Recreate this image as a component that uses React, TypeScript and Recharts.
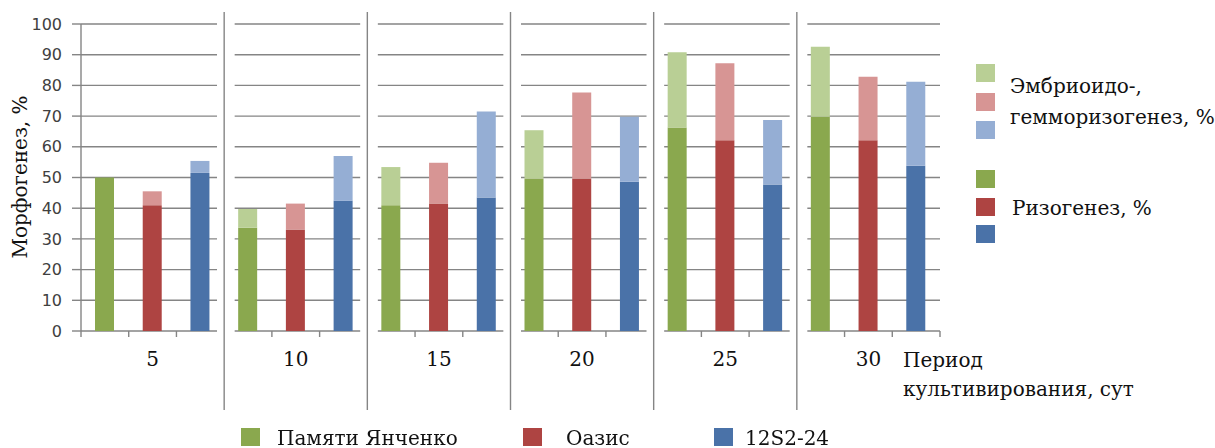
import React from 'react';
import {
  BarChart, Bar, Cell, XAxis, YAxis, CartesianGrid, ReferenceLine, ReferenceArea,
} from 'recharts';

// Период культивирования, сут
const periods = ['5', '10', '15', '20', '25', '30'];
const varieties = ['Памяти Янченко', 'Оазис', '12S2-24'];

// Ризогенез, % (нижняя часть столбца)
const rhizoYanchenko = [50, 33.6, 41, 49.7, 66.3, 69.8];
const rhizoOasis = [41, 33.1, 41.5, 49.7, 62.1, 62.1];
const rhizo12S2 = [51.5, 42.4, 43.5, 48.6, 47.7, 53.8];

// Эмбриоидо-, гемморизогенез, % (верхняя часть столбца)
const embrYanchenko = [0, 6.1, 12.4, 15.7, 24.5, 22.8];
const embrOasis = [4.5, 8.4, 13.3, 28, 25.1, 20.7];
const embr12S2 = [3.9, 14.6, 28, 21.2, 21, 27.4];

const yTicks = [0, 10, 20, 30, 40, 50, 60, 70, 80, 90, 100];

const darkColors = ['#8aa84e', '#ae4442', '#4a72a8'];
const lightColors = ['#b9cf95', '#d79594', '#95aed4'];
const GRID = '#858585';
const SERIF = '"DejaVu Serif", serif';

const rhizo = [rhizoYanchenko, rhizoOasis, rhizo12S2];
const embr = [embrYanchenko, embrOasis, embr12S2];

// одна позиция на оси x на каждый сорт в каждом периоде
const data = periods.flatMap((_, p) =>
  varieties.map((_, v) => ({
    x: p * 3 + v,
    variety: v,
    rhizo: rhizo[v][p],
    embr: embr[v][p],
  })),
);

// границы между периодами
const separators = periods.slice(1).map((_, i) => i * 3 + 2.5);
// деления между сортами внутри периода
const subTicks = [-0.5, ...periods.flatMap((_, p) => [p * 3 + 0.5, p * 3 + 1.5]), 17.5];
const periodTicks = periods.map((_, p) => p * 3 + 1);
const xTicks = [...subTicks, ...periodTicks].sort((a, b) => a - b);

// деления рисуются короткой чертой, центры периодов — подписью
function XTick(props: any) {
  const { x, y, payload } = props;
  const v = payload.value as number;
  const idx = periodTicks.indexOf(v);
  if (idx >= 0) {
    return (
      <text x={x} y={y + 35} textAnchor="middle" fontFamily={SERIF} fontSize={20} fill="#111">
        {periods[idx]}
      </text>
    );
  }
  return <line x1={x} x2={x} y1={y} y2={y + 6} stroke={GRID} strokeWidth={1.4} />;
}

const sq = (color: string, left: number, top: number): React.CSSProperties => ({
  position: 'absolute', left, top, width: 19, height: 18, background: color,
});

const txt = (left: number, top: number): React.CSSProperties => ({
  position: 'absolute', left, top, fontFamily: SERIF, fontSize: 20, lineHeight: '20px',
  color: '#111', whiteSpace: 'nowrap',
});

export default function App() {
  return (
    <div style={{ position: 'fixed', left: 0, top: 0, width: 1215, height: 448, background: '#fff' }}>
      <BarChart
        width={1215}
        height={448}
        data={data}
        margin={{ top: 24, right: 275, bottom: 77, left: 0 }}
      >
        <CartesianGrid vertical={false} stroke={GRID} strokeWidth={1.4} />
        <XAxis
          dataKey="x"
          type="number"
          domain={[-0.5, 17.5]}
          allowDataOverflow
          ticks={xTicks}
          interval={0}
          tick={<XTick />}
          axisLine={false}
          tickLine={false}
          tickSize={0}
          tickMargin={0}
          height={40}
        />
        <YAxis
          type="number"
          domain={[0, 100]}
          ticks={yTicks}
          width={81}
          axisLine={{ stroke: GRID, strokeWidth: 1.4 }}
          tickLine={{ stroke: GRID, strokeWidth: 1.4 }}
          tickSize={9}
          tickMargin={10}
          tick={{ fontFamily: '"DejaVu Sans", sans-serif', fontSize: 16, fill: '#404040' }}
        />
        {separators.map((b) => (
          <ReferenceArea
            key={`gap-${b}`}
            x1={b - 0.15}
            x2={b + 0.22}
            y1={-1}
            y2={101}
            fill="#fff"
            fillOpacity={1}
            stroke="none"
            ifOverflow="visible"
          />
        ))}
        {separators.map((b) => (
          <ReferenceLine
            key={`sep-${b}`}
            segment={[{ x: b, y: -25.7 }, { x: b, y: 103.9 }]}
            stroke={GRID}
            strokeWidth={1.4}
            ifOverflow="visible"
          />
        ))}
        <Bar dataKey="rhizo" stackId="m" barSize={19} isAnimationActive={false}>
          {data.map((d) => (
            <Cell key={`r-${d.x}`} fill={darkColors[d.variety]} />
          ))}
        </Bar>
        <Bar dataKey="embr" stackId="m" barSize={19} isAnimationActive={false}>
          {data.map((d) => (
            <Cell key={`e-${d.x}`} fill={lightColors[d.variety]} />
          ))}
        </Bar>
      </BarChart>

      {/* подпись оси y */}
      <div
        style={{
          position: 'absolute', left: 20, top: 177, transform: 'translate(-50%, -50%) rotate(-90deg)',
          fontFamily: SERIF, fontSize: 20, lineHeight: '20px', color: '#111', whiteSpace: 'nowrap',
        }}
      >
        Морфогенез, %
      </div>

      {/* подпись оси x */}
      <div style={txt(903, 350)}>Период</div>
      <div style={txt(903, 379)}>культивирования, сут</div>

      {/* легенда справа */}
      <div style={sq(lightColors[0], 976, 64)} />
      <div style={sq(lightColors[1], 976, 93)} />
      <div style={sq(lightColors[2], 976, 121)} />
      <div style={txt(1010, 76)}>Эмбриоидо-,</div>
      <div style={txt(1010, 107)}>гемморизогенез, %</div>
      <div style={sq(darkColors[0], 976, 170)} />
      <div style={sq(darkColors[1], 976, 198)} />
      <div style={sq(darkColors[2], 976, 225)} />
      <div style={txt(1012, 198)}>Ризогенез, %</div>

      {/* легенда снизу */}
      {varieties.map((name, v) => {
        const left = [241, 523, 714][v];
        return (
          <React.Fragment key={name}>
            <div style={sq(darkColors[v], left, 428)} />
            <div style={txt(left + (v === 2 ? 31 : v === 1 ? 43 : 36), 428)}>{name}</div>
          </React.Fragment>
        );
      })}
    </div>
  );
}
